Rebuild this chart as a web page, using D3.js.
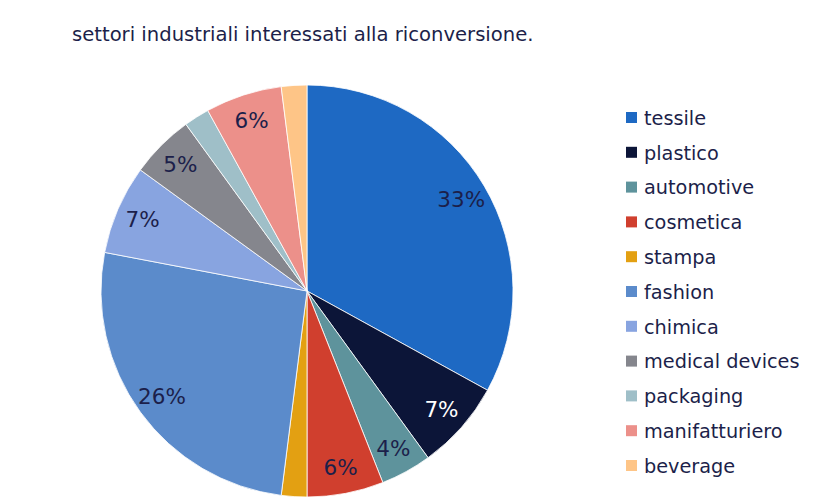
<!DOCTYPE html>
<html><head><meta charset="utf-8">
<script src="https://cdn.jsdelivr.net/npm/d3@7"></script>
<style>body{margin:0;background:#fff;} svg{display:block;font-family:"DejaVu Sans",Verdana,sans-serif;}</style>
</head><body>
<svg id="c" width="840" height="500"></svg>
<script>
const categories = ["tessile","plastico","automotive","cosmetica","stampa","fashion","chimica","medical devices","packaging","manifatturiero","beverage"];
const values = [33, 7, 4, 6, 2, 26, 7, 5, 2, 6, 2];
const labels = ["33%","7%","4%","6%","","26%","7%","5%","","6%",""];
const colors = ["#1E69C3","#0C1538","#5E939C","#D03F2E","#E3A012","#5B8BCB","#88A4E0","#85868D","#9FBFC8","#EC908A","#FEC587"];
const title = "settori industriali interessati alla riconversione.";

const svg = d3.select("#c");
const cx = 307, cy = 291, R = 206;
svg.append("text").attr("x",72).attr("y",41).attr("font-size",19.6).attr("fill","#1c1f4a").text(title);

const data = categories.map((c,i)=>({c, v:values[i], l:labels[i], col:colors[i]}));
const pie = d3.pie().value(d=>d.v).sort(null);
const arc = d3.arc().innerRadius(0).outerRadius(R);
const labArc = d3.arc().innerRadius(R*0.87).outerRadius(R*0.87);
const g = svg.append("g").attr("transform",`translate(${cx},${cy})`);
const arcs = pie(data);
g.selectAll("path").data(arcs).join("path").attr("d",arc).attr("fill",d=>d.data.col)
  .attr("stroke","#fff").attr("stroke-width",0.8);
g.selectAll("text").data(arcs).join("text")
  .attr("transform",d=>`translate(${labArc.centroid(d)})`)
  .attr("text-anchor","middle").attr("dy","0.35em").attr("font-size",21.5)
  .attr("fill",(d,i)=>i===1?"#ffffff":"#1c1f4a").text(d=>d.data.l);

const leg = svg.append("g");
const ly = d3.scalePoint().domain(categories).range([118,466]);
categories.forEach((c,i)=>{
  const y = ly(c);
  leg.append("rect").attr("x",626).attr("y",y-6).attr("width",11).attr("height",11).attr("fill",colors[i]);
  leg.append("text").attr("x",644).attr("y",y).attr("dy","0.35em").attr("font-size",19.3).attr("fill","#1c1f4a").text(c);
});
</script>
</body></html>
